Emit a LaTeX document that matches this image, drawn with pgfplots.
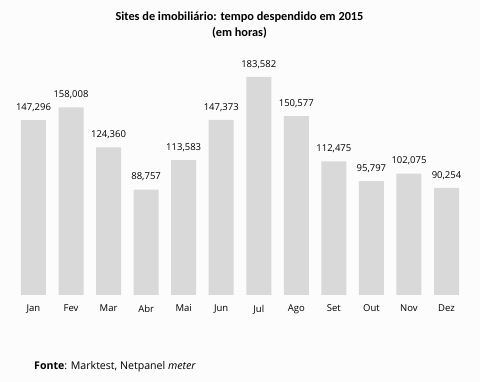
\documentclass[border=0pt]{standalone}
\usepackage{fontspec}
\setmainfont{Open Sans}
\newfontfamily\titlefont{Carlito}
\usepackage{pgfplots}
\pgfplotsset{compat=1.18}
\definecolor{barcolor}{HTML}{D9D9D9}
\definecolor{bg}{HTML}{FCFCFC}
\begin{document}
\begin{tikzpicture}[x=1pt,y=1pt]
\fill[bg] (0,0) rectangle (480,382);
\begin{axis}[
  at={(14.7pt,87pt)}, anchor=south west,
  scale only axis, width=450.6pt, height=237.6pt,
  xmin=-0.5, xmax=11.5, ymin=0, ymax=200000,
  ybar, bar width=25pt, bar shift=0pt,
  axis line style={draw=none}, tick style={draw=none},
  ytick=\empty,
  xtick={0,...,11},
  xticklabels={Jan,Fev,Mar,Abr,Mai,Jun,Jul,Ago,Set,Out,Nov,Dez},
  xticklabel style={font=\fontsize{9.5}{11}\selectfont, yshift=-2pt},
  point meta=explicit symbolic,
  nodes near coords,
  nodes near coords style={font=\fontsize{9.5}{11}\selectfont, yshift=5pt, text=black},
  clip=false,
]
\addplot[fill=barcolor, draw=none] table[x=x, y=y, meta=lab] {
x y lab
0 147296 147,296
1 158008 158,008
2 124360 124,360
3 88757 88,757
4 113583 113,583
5 147373 147,373
6 183582 183,582
7 150577 150,577
8 112475 112,475
9 95797 95,797
10 102075 102,075
11 90254 90,254
};
\end{axis}
\node[font=\titlefont\bfseries\fontsize{12.3}{16}\selectfont, align=center] at (239.5,357) {Sites de imobiliário: tempo despendido em 2015\\(em horas)};
\node[anchor=base west, inner sep=0pt, font=\fontsize{10.6}{12}\selectfont] at (34,12) {\textbf{Fonte}: Marktest, Netpanel \textit{meter}};
\end{tikzpicture}
\end{document}
